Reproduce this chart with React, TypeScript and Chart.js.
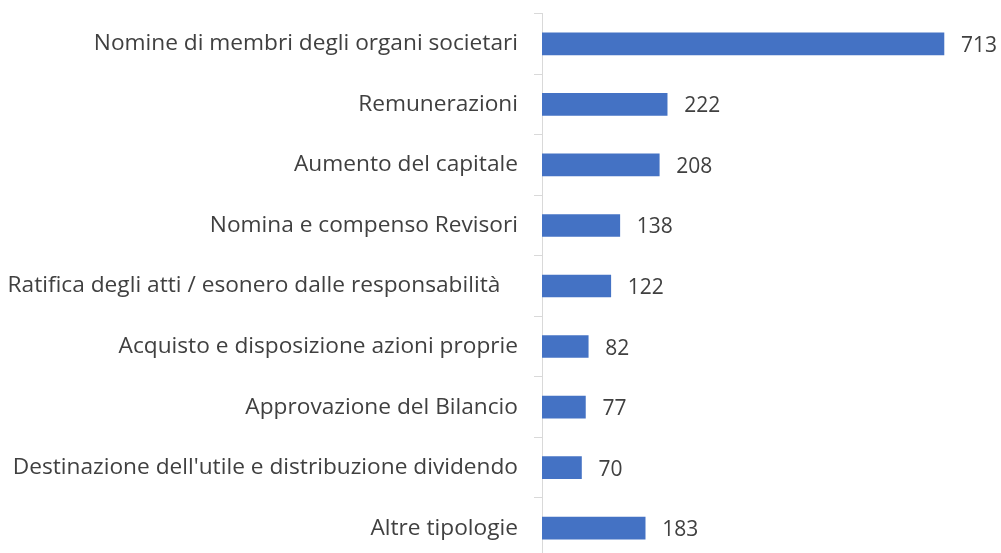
import React, { useEffect, useRef } from "react";
import { Chart, registerables } from "chart.js";

Chart.register(...registerables);

const categories = [
  "Nomine di membri degli organi societari",
  "Remunerazioni",
  "Aumento del capitale",
  "Nomina e compenso Revisori",
  "Ratifica degli atti / esonero dalle responsabilità   ",
  "Acquisto e disposizione azioni proprie",
  "Approvazione del Bilancio",
  "Destinazione dell'utile e distribuzione dividendo",
  "Altre tipologie",
];
const values = [713, 222, 208, 138, 122, 82, 77, 70, 183];

const FONT = "'Open Sans', 'Noto Sans', sans-serif";
const TEXT_COLOR = "#404040";

const valueLabels = {
  id: "valueLabels",
  afterDatasetsDraw(chart: any) {
    const ctx = chart.ctx;
    const meta = chart.getDatasetMeta(0);
    ctx.save();
    ctx.font = `21px ${FONT}`;
    ctx.fillStyle = TEXT_COLOR;
    ctx.textAlign = "left";
    ctx.textBaseline = "middle";
    meta.data.forEach((bar: any, i: number) => {
      ctx.fillText(String(values[i]), bar.x + 17, bar.y + 2);
    });
    ctx.restore();
  },
};

export default function App() {
  const ref = useRef<HTMLCanvasElement>(null);
  useEffect(() => {
    if (!ref.current) return;
    const chart = new Chart(ref.current, {
      type: "bar",
      data: {
        labels: categories,
        datasets: [
          {
            data: values,
            backgroundColor: "#4472C4",
            barThickness: 22,
          },
        ],
      },
      options: {
        indexAxis: "y",
        responsive: false,
        animation: false,
        layout: { padding: { top: 0, bottom: 0, right: 8, left: 0 } },
        plugins: {
          legend: { display: false },
          tooltip: { enabled: false },
        },
        scales: {
          x: {
            display: false,
            min: 0,
            max: 800,
          },
          y: {
            afterFit: (s: any) => {
              s.width = 542;
            },
            border: { display: true, color: "#D9D9D9", width: 1 },
            grid: {
              display: true,
              offset: true,
              drawOnChartArea: false,
              drawTicks: true,
              tickLength: 8,
              color: "#D9D9D9",
            },
            ticks: {
              padding: 16,
              color: TEXT_COLOR,
              font: { family: FONT, size: 22.7 },
            },
          },
        },
      },
      plugins: [valueLabels],
    });
    return () => chart.destroy();
  }, []);
  return (
    <div
      style={{
        position: "fixed",
        left: 0,
        top: 0,
        width: 1001,
        height: 553,
        overflow: "hidden",
        background: "#fff",
      }}
    >
      <canvas
        ref={ref}
        width={1001}
        height={604}
        style={{ display: "block", marginTop: -16 }}
      />
    </div>
  );
}
